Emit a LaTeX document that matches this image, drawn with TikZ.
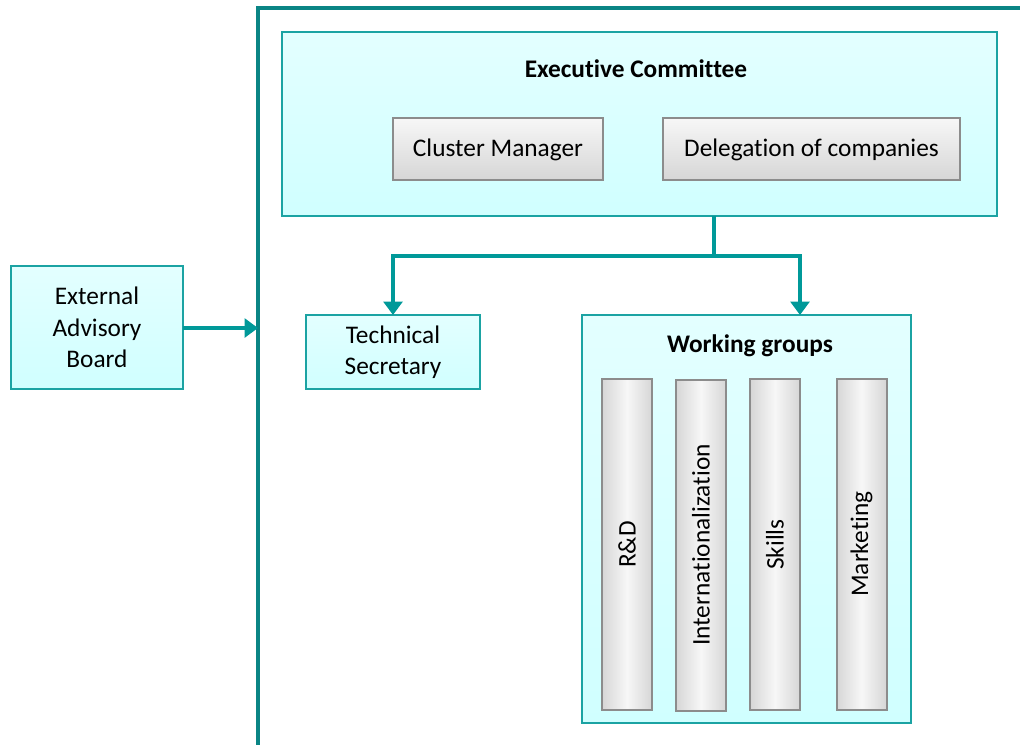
\documentclass[tikz,border=0pt]{standalone}
\usepackage{fontspec}
\usepackage{graphicx}
\setmainfont[RawFeature={-liga;-clig;-calt}]{Carlito}
\usetikzlibrary{arrows.meta}
\definecolor{frameteal}{HTML}{0A8585}
\definecolor{boxedge}{HTML}{1BA3A3}
\definecolor{connteal}{HTML}{009999}
\definecolor{cyantop}{HTML}{E3FFFF}
\definecolor{cyanbot}{HTML}{D0FFFF}
\definecolor{grayedge}{HTML}{8C8C8C}
\definecolor{graylight}{HTML}{F7F7F7}
\definecolor{graydark}{HTML}{D6D6D6}
\tikzset{
  cyanbox/.style={draw=boxedge, line width=1.5pt, top color=cyantop, bottom color=cyanbot,
    inner sep=0pt, outer sep=0pt, align=center, font=\fontsize{19}{23.5}\selectfont},
  graybox/.style={draw=grayedge, line width=1.5pt, top color=graylight, bottom color=graydark,
    inner sep=0pt, outer sep=0pt, font=\fontsize{19}{23}\selectfont},
  column/.style={draw=grayedge, line width=1.5pt, left color=graydark, right color=graydark,
    middle color=graylight, inner sep=0pt, outer sep=0pt,
    minimum height=248.25pt, minimum width=37.5pt, font=\fontsize{19}{23}\selectfont},
  title/.style={font=\fontsize{19}{23}\selectfont\bfseries, inner sep=0pt},
  frameline/.style={draw=frameteal, line width=2.6pt},
  conn/.style={draw=connteal, line width=3.6pt},
  connarrow/.style={conn, -{Triangle[width=14pt,length=10pt]}}
}
\begin{document}
\begin{tikzpicture}[x=0.75pt, y=-0.75pt]
\useasboundingbox (0,0) rectangle (1020,744);
\clip (0,0) rectangle (1020,744);
\draw[frameline] (258,760) -- (258,8) -- (1040,8);
% Executive committee
\node[cyanbox, minimum width=536.25pt, minimum height=138pt] (EC) at (639.5,124) {};
\node[title] (ECt) at (636,69) {Executive Committee};
\node[graybox, minimum width=157.5pt, minimum height=46.5pt, text depth=2pt] (CM) at (498,149) {Cluster Manager};
\node[graybox, minimum width=222.75pt, minimum height=46.5pt, text depth=2pt] (DC) at (811.5,149) {Delegation of companies};
% External advisory board
\node[cyanbox, minimum width=129pt, minimum height=92.25pt] (EAB) at (97,327.5) {External\\Advisory\\Board};
% Technical secretary
\node[cyanbox, minimum width=130.5pt, minimum height=55.5pt] (TS) at (393,352) {\raisebox{-2pt}{\parbox{120pt}{\centering Technical\\Secretary}}};
% Working groups
\node[cyanbox, minimum width=246.75pt, minimum height=306pt] (WG) at (746.5,519) {};
\node[title] (WGt) at (750,346) {Working groups};
\node[column] (RD) at (627,544.5) {\rotatebox{90}{R\&D}};
\node[column] (IN) at (701,545) {\rotatebox{90}{Internationalization}};
\node[column] (SK) at (775,544.5) {\rotatebox{90}{Skills}};
\node[column] (MK) at (861.5,544) {\rotatebox{90}{Marketing}};
% connectors
\coordinate (split) at (714,256);
\coordinate (wgtop) at (800,315);
\coordinate (frameleft) at (258,328);
\draw[conn] (EC.south -| split) -- (split);
\draw[connarrow] (split) -| (TS.north);
\draw[connarrow] (split) -| (wgtop);
\draw[connarrow] (EAB.east |- frameleft) -- (frameleft);
\end{tikzpicture}
\end{document}
